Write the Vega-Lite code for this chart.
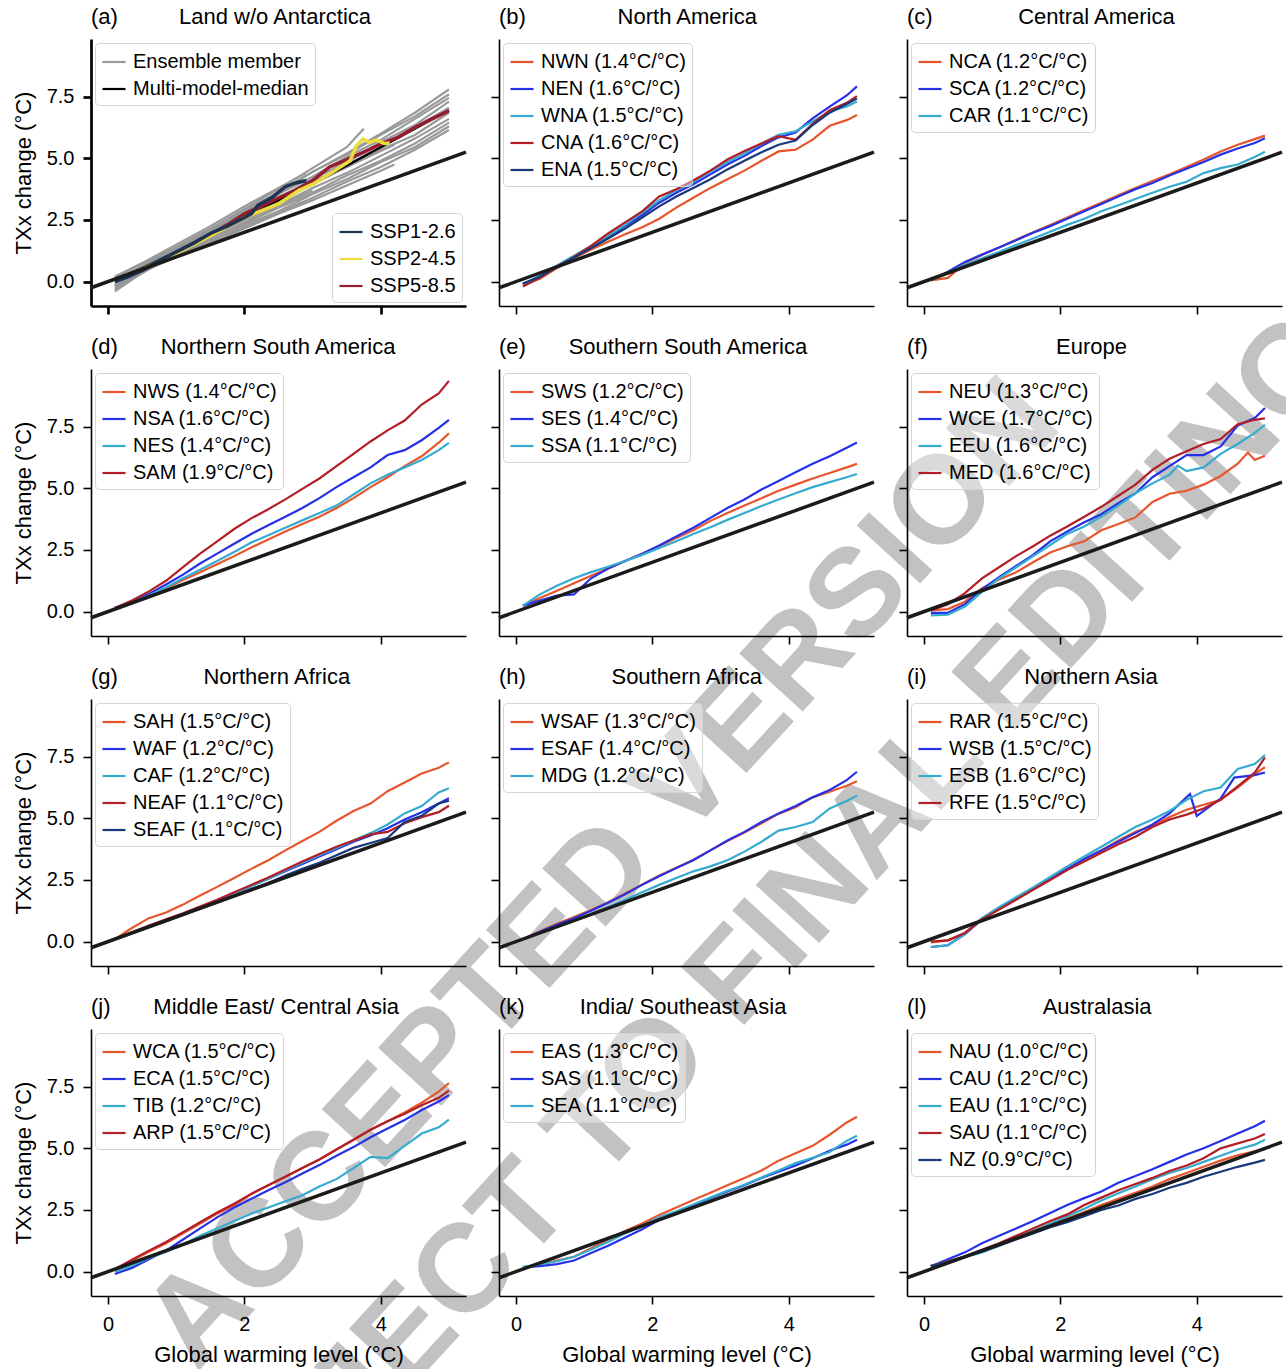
{
"$schema":"https://vega.github.io/schema/vega-lite/v6.json",
"background":"white",
"padding":{"left":12,"top":6,"right":4,"bottom":3},
"columns":3,
"spacing":{"row":63,"column":33},
"bounds":"flush",
"resolve":{"scale":{"color":"independent","x":"independent","y":"independent"},"legend":{"color":"independent"}},
"config":{
 "font":"Liberation Sans",
 "view":{"stroke":null},
 "title":{"fontSize":22,"fontWeight":"normal","anchor":"start","frame":"group","baseline":"alphabetic","offset":10,"color":"#000","font":"Liberation Sans"},
 "axis":{"grid":false,"domainColor":"#000","domainWidth":1.6,"tickColor":"#000","tickWidth":1.6,"tickSize":8,"labelFontSize":20,"labelColor":"#000","labelPadding":9,"labelFlush":false,"labelOverlap":false,"titleFontSize":22,"titleFontWeight":"normal","titleColor":"#000","labelFont":"Liberation Sans","titleFont":"Liberation Sans"},
 "axisY":{"titlePadding":11},
 "axisX":{"titlePadding":10,"labelPadding":10},
 "legend":{"orient":"top-left","offset":4,"padding":6,"fillColor":"rgba(255,255,255,0.4)","strokeColor":"#d4d4d4","cornerRadius":4,"labelFontSize":20,"labelFont":"Liberation Sans","labelColor":"#000","labelLimit":400,"symbolType":"stroke","symbolSize":529,"symbolStrokeWidth":2.2,"rowPadding":4,"labelOffset":6},
 "line":{"strokeWidth":2.2}
},
"concat":[
{"width":375,"height":267,
 "title":"(a)\u00a0\u00a0\u00a0\u00a0\u00a0\u00a0\u00a0\u00a0\u00a0\u00a0Land w/o Antarctica",
 "encoding":{"x":{"field":"x","type":"quantitative","scale":{"domain":[-0.25,5.25],"nice":false,"zero":false},"axis":{"values":[0,2,4],"labels":false,"title":null,"domainWidth":2.7,"tickWidth":2.7}},
  "y":{"field":"y","type":"quantitative","scale":{"domain":[-0.99,9.84],"nice":false,"zero":false},"axis":{"values":[0,2.5,5,7.5],"format":".1f","title":"TXx change (°C)","domainWidth":2.7,"tickWidth":2.7}}},
 "layer":[
  {"data":{"values":[
   {"id":"m1","m":"Ensemble member","x":[0.1,0.5,1.0,1.5,2.0,2.5,3.0,3.5,4.0,4.5,5.0],"y":[-0.4,0.35,1.2,1.95,2.8,3.65,4.45,5.2,6.0,6.85,7.8]},
   {"id":"m2","m":"Ensemble member","x":[0.1,0.5,1.0,1.5,2.0,2.5,3.0,3.5,4.0,4.5,5.0],"y":[-0.2,0.45,1.3,2.0,2.9,3.6,4.45,5.15,5.95,6.7,7.6]},
   {"id":"m3","m":"Ensemble member","x":[0.1,0.5,1.0,1.5,2.0,2.5,3.0,3.5,4.0,4.5,5.0],"y":[0.0,0.55,1.3,2.1,2.75,3.55,4.25,5.05,5.75,6.6,7.45]},
   {"id":"m4","m":"Ensemble member","x":[0.1,0.5,1.0,1.5,2.0,2.5,3.0,3.5,4.0,4.5,5.0],"y":[0.1,0.6,1.3,1.95,2.7,3.4,4.15,4.85,5.65,6.35,7.3]},
   {"id":"m5","m":"Ensemble member","x":[0.1,0.5,1.0,1.5,2.0,2.5,3.0,3.5,4.0,4.5,5.0],"y":[-0.3,0.4,1.15,1.9,2.6,3.35,4.0,4.75,5.45,6.25,7.05]},
   {"id":"m6","m":"Ensemble member","x":[0.1,0.5,1.0,1.5,2.0,2.5,3.0,3.5,4.0,4.5,5.0],"y":[0.2,0.7,1.4,2.0,2.7,3.35,4.05,4.65,5.35,5.95,6.85]},
   {"id":"m7","m":"Ensemble member","x":[0.1,0.5,1.0,1.5,2.0,2.5,3.0,3.5,4.0,4.5,5.0],"y":[-0.1,0.5,1.15,1.8,2.5,3.1,3.8,4.4,5.1,5.8,6.6]},
   {"id":"m8","m":"Ensemble member","x":[0.1,0.5,1.0,1.5,2.0,2.5,3.0,3.5,4.0,4.5,5.0],"y":[0.05,0.55,1.1,1.75,2.35,3.0,3.6,4.3,4.9,5.6,6.45]},
   {"id":"m9","m":"Ensemble member","x":[0.1,0.5,1.0,1.5,2.0,2.5,3.0,3.5,4.0,4.5,5.0],"y":[-0.2,0.4,1.0,1.6,2.3,2.85,3.55,4.15,4.85,5.45,6.3]},
   {"id":"m10","m":"Ensemble member","x":[0.1,0.5,1.0,1.5,2.0,2.5,3.0,3.5,4.0,4.5,5.0],"y":[0.15,0.55,1.05,1.6,2.2,2.8,3.4,4.05,4.65,5.35,6.15]},
   {"id":"m11","m":"Ensemble member","x":[0.1,0.5,1.0,1.5,2.0,2.5,3.0,3.5,3.75],"y":[0.0,0.6,1.4,2.15,2.95,3.75,4.6,5.45,6.2]},
   {"id":"m12","m":"Ensemble member","x":[0.1,0.5,1.0,1.5,2.0,2.5,3.0,3.5,4.0,4.2],"y":[-0.3,0.35,1.1,1.8,2.55,3.25,3.95,4.65,5.3,5.55]},
   {"id":"m13","m":"Ensemble member","x":[0.1,0.5,1.0,1.5,2.0,2.5,3.0,3.5,4.0,4.2],"y":[0.1,0.45,1.0,1.55,2.15,2.75,3.3,3.9,4.5,4.75]},
   {"id":"m14","m":"Ensemble member","x":[0.1,0.5,1.0,1.5,2.0,2.5,2.9],"y":[0.2,0.75,1.5,2.25,3.05,3.8,4.4]},
   {"id":"m15","m":"Ensemble member","x":[0.1,0.5,1.0,1.5,2.0,2.5,3.0],"y":[-0.15,0.4,1.05,1.7,2.4,3.05,3.7]},
   {"id":"m16","m":"Ensemble member","x":[0.1,0.5,1.0,1.5,2.0,2.5,3.0],"y":[0.05,0.5,1.1,1.65,2.2,2.8,3.3]},
   {"id":"med","m":"Multi-model-median","x":[0.1,0.5,1.0,1.5,2.0,2.5,3.0,3.5,4.0,4.5,5.0],"y":[0.05,0.55,1.2,1.85,2.6,3.3,4.0,4.7,5.45,6.2,6.95]}
  ]},
  "transform":[{"flatten":["x","y"]}],
  "mark":{"type":"line"},
  "encoding":{
   "color":{"field":"m","type":"nominal","scale":{"domain":["Ensemble member","Multi-model-median"],"range":["#999999","#000000"]},"legend":{"title":null,"orient":"top-left","encode":{"symbols":{"update":{"strokeWidth":{"signal":"datum.value === 'Multi-model-median' ? 3.5 : 1.2"}}}}}},
   "strokeWidth":{"condition":{"test":"datum.m === 'Multi-model-median'","value":3.5},"value":1.2},
   "detail":{"field":"id"}}},
  {"data":{"values":[
   {"s":"SSP5-8.5","x":[0.1,0.3,0.5,0.75,1.0,1.25,1.5,1.75,2.0,2.25,2.5,2.75,3.0,3.25,3.5,3.75,4.0,4.25,4.5,4.75,5.0],"y":[0.03,0.25,0.45,0.8,1.2,1.55,1.9,2.3,2.75,3.05,3.4,3.7,4.1,4.65,4.95,5.25,5.58,5.85,6.25,6.6,6.93]},
   {"s":"SSP2-4.5","x":[0.1,0.5,1.0,1.5,2.0,2.5,2.8,3.0,3.3,3.55,3.64,3.74,3.84,3.94,4.05,4.13],"y":[0.05,0.5,1.15,1.85,2.6,3.15,3.7,3.95,4.45,4.9,5.5,5.78,5.65,5.75,5.6,5.62]},
   {"s":"SSP1-2.6","x":[0.1,0.3,0.5,0.75,1.0,1.25,1.5,1.75,2.0,2.1,2.2,2.4,2.6,2.75,2.91],"y":[0.0,0.2,0.45,0.85,1.2,1.55,1.95,2.25,2.6,2.75,3.1,3.4,3.85,4.0,4.1]}
  ]},
  "transform":[{"flatten":["x","y"]}],
  "mark":{"type":"line","strokeWidth":3.5},
  "encoding":{"color":{"field":"s","type":"nominal","scale":{"domain":["SSP1-2.6","SSP2-4.5","SSP5-8.5"],"range":["#1d3354","#eadd3d","#951b2f"]},"legend":{"title":null,"orient":"bottom-right","symbolStrokeWidth":3.5}}}},
  {"data":{"values":[{"x":-0.25,"y":-0.25},{"x":5.25,"y":5.25}]},"mark":{"type":"line","color":"#1b1b1b","strokeWidth":3.5},"encoding":{}}
 ],
 "resolve":{"scale":{"color":"independent"}}
},
{"width":375,"height":267,
 "title":"(b)\u00a0\u00a0\u00a0\u00a0\u00a0\u00a0\u00a0\u00a0\u00a0\u00a0\u00a0\u00a0\u00a0\u00a0\u00a0North America",
 "encoding":{"x":{"field":"x","type":"quantitative","scale":{"domain":[-0.25,5.25],"nice":false,"zero":false},"axis":{"values":[0,2,4],"labels":false,"title":null}},
  "y":{"field":"y","type":"quantitative","scale":{"domain":[-0.99,9.84],"nice":false,"zero":false},"axis":{"values":[0,2.5,5,7.5],"labels":false,"title":null}}},
 "layer":[
  {"data":{"values":[
   {"s":"NWN (1.4°C/°C)","x":[0.1,0.35,0.6,0.85,1.1,1.35,1.6,1.85,2.1,2.35,2.6,2.85,3.1,3.35,3.6,3.85,4.1,4.35,4.6,4.85,5.0],"y":[-0.12,0.12,0.55,0.95,1.3,1.62,1.92,2.2,2.55,3.0,3.4,3.8,4.15,4.5,4.9,5.28,5.35,5.76,6.32,6.55,6.76]},
   {"s":"NEN (1.6°C/°C)","x":[0.1,0.35,0.6,0.85,1.1,1.35,1.6,1.85,2.1,2.35,2.6,2.85,3.1,3.35,3.6,3.85,4.1,4.35,4.6,4.85,5.0],"y":[-0.1,0.2,0.62,1.0,1.4,1.8,2.25,2.7,3.2,3.6,3.95,4.35,4.75,5.1,5.5,5.85,6.05,6.62,7.1,7.55,7.92]},
   {"s":"WNA (1.5°C/°C)","x":[0.1,0.35,0.6,0.85,1.1,1.35,1.6,1.85,2.1,2.35,2.6,2.85,3.1,3.35,3.6,3.85,4.1,4.35,4.6,4.85,5.0],"y":[-0.12,0.25,0.65,1.05,1.45,1.85,2.3,2.8,3.3,3.7,4.05,4.45,4.85,5.2,5.6,5.95,6.1,6.5,6.9,7.1,7.3]},
   {"s":"CNA (1.6°C/°C)","x":[0.1,0.35,0.6,0.85,1.1,1.35,1.6,1.85,2.1,2.35,2.6,2.85,3.1,3.35,3.6,3.85,4.1,4.35,4.6,4.85,5.0],"y":[-0.2,0.15,0.6,1.0,1.45,1.95,2.4,2.85,3.45,3.75,4.1,4.5,4.95,5.3,5.6,5.9,5.75,6.4,6.95,7.25,7.52]},
   {"s":"ENA (1.5°C/°C)","x":[0.1,0.35,0.6,0.85,1.1,1.35,1.6,1.85,2.1,2.35,2.6,2.85,3.1,3.35,3.6,3.85,4.1,4.35,4.6,4.85,5.0],"y":[-0.08,0.2,0.6,0.98,1.35,1.75,2.15,2.6,3.05,3.45,3.8,4.15,4.55,4.9,5.25,5.55,5.72,6.35,6.85,7.2,7.43]}
  ]},
  "transform":[{"flatten":["x","y"]}],"mark":{"type":"line"},
  "encoding":{"color":{"field":"s","type":"nominal","scale":{"domain":["NWN (1.4°C/°C)","NEN (1.6°C/°C)","WNA (1.5°C/°C)","CNA (1.6°C/°C)","ENA (1.5°C/°C)"],"range":["#e8552d","#2531e6","#35abd0","#b51d26","#17387a"]},"legend":{"title":null}}}},
  {"data":{"values":[{"x":-0.25,"y":-0.25},{"x":5.25,"y":5.25}]},"mark":{"type":"line","color":"#1b1b1b","strokeWidth":3.5},"encoding":{}}
 ]
},
{"width":375,"height":267,
 "title":"(c)\u00a0\u00a0\u00a0\u00a0\u00a0\u00a0\u00a0\u00a0\u00a0\u00a0\u00a0\u00a0\u00a0\u00a0Central America",
 "encoding":{"x":{"field":"x","type":"quantitative","scale":{"domain":[-0.25,5.25],"nice":false,"zero":false},"axis":{"values":[0,2,4],"labels":false,"title":"SUBJECT TO FINAL EDITING","titleX":-141,"titleY":694,"titleAngle":-47.5,"titleAlign":"center","titleBaseline":"alphabetic","titleFontSize":125,"titleFontWeight":"bold","titleColor":"#787878","titleOpacity":0.45,"titleLimit":5000}},
  "y":{"field":"y","type":"quantitative","scale":{"domain":[-0.99,9.84],"nice":false,"zero":false},"axis":{"values":[0,2.5,5,7.5],"labels":false,"title":"ACCEPTED VERSION","titleX":-277,"titleY":860,"titleAngle":-47.5,"titleAlign":"center","titleBaseline":"alphabetic","titleFontSize":125,"titleFontWeight":"bold","titleColor":"#787878","titleOpacity":0.45,"titleLimit":5000}}},
 "layer":[
  {"data":{"values":[
   {"s":"NCA (1.2°C/°C)","x":[0.1,0.35,0.6,0.85,1.1,1.35,1.6,1.85,2.1,2.35,2.6,2.85,3.1,3.35,3.6,3.85,4.1,4.35,4.6,4.85,5.0],"y":[0.05,0.15,0.75,1.08,1.38,1.7,2.0,2.3,2.6,2.9,3.2,3.5,3.8,4.08,4.35,4.65,4.95,5.28,5.55,5.78,5.92]},
   {"s":"SCA (1.2°C/°C)","x":[0.1,0.35,0.6,0.85,1.1,1.35,1.6,1.85,2.1,2.35,2.6,2.85,3.1,3.35,3.6,3.85,4.1,4.35,4.6,4.85,5.0],"y":[0.05,0.4,0.8,1.1,1.38,1.68,1.98,2.25,2.55,2.85,3.15,3.45,3.75,4.0,4.3,4.58,4.85,5.15,5.4,5.62,5.81]},
   {"s":"CAR (1.1°C/°C)","x":[0.1,0.35,0.6,0.85,1.1,1.35,1.6,1.85,2.1,2.35,2.6,2.85,3.1,3.35,3.6,3.85,4.1,4.35,4.6,4.85,5.0],"y":[0.05,0.35,0.68,0.95,1.2,1.48,1.75,2.02,2.3,2.55,2.85,3.1,3.35,3.6,3.85,4.05,4.4,4.6,4.75,5.05,5.27]}
  ]},
  "transform":[{"flatten":["x","y"]}],"mark":{"type":"line"},
  "encoding":{"color":{"field":"s","type":"nominal","scale":{"domain":["NCA (1.2°C/°C)","SCA (1.2°C/°C)","CAR (1.1°C/°C)"],"range":["#e8552d","#2531e6","#35abd0"]},"legend":{"title":null}}}},
  {"data":{"values":[{"x":-0.25,"y":-0.25},{"x":5.25,"y":5.25}]},"mark":{"type":"line","color":"#1b1b1b","strokeWidth":3.5},"encoding":{}}
 ]
},
{"width":375,"height":267,
 "title":"(d)\u00a0\u00a0\u00a0\u00a0\u00a0\u00a0\u00a0Northern South America",
 "encoding":{"x":{"field":"x","type":"quantitative","scale":{"domain":[-0.25,5.25],"nice":false,"zero":false},"axis":{"values":[0,2,4],"labels":false,"title":null}},
  "y":{"field":"y","type":"quantitative","scale":{"domain":[-0.99,9.84],"nice":false,"zero":false},"axis":{"values":[0,2.5,5,7.5],"format":".1f","title":"TXx change (°C)"}}},
 "layer":[
  {"data":{"values":[
   {"s":"NWS (1.4°C/°C)","x":[0.1,0.35,0.6,0.85,1.1,1.35,1.6,1.85,2.1,2.35,2.6,2.85,3.1,3.35,3.6,3.85,4.1,4.35,4.6,4.85,5.0],"y":[0.15,0.35,0.62,0.95,1.28,1.6,1.92,2.25,2.6,2.92,3.25,3.55,3.85,4.2,4.6,5.05,5.45,5.9,6.3,6.85,7.23]},
   {"s":"NSA (1.6°C/°C)","x":[0.1,0.35,0.6,0.85,1.1,1.35,1.6,1.85,2.1,2.35,2.6,2.85,3.1,3.35,3.6,3.85,4.1,4.35,4.6,4.85,5.0],"y":[0.15,0.4,0.72,1.1,1.5,1.95,2.35,2.75,3.15,3.5,3.85,4.2,4.6,5.05,5.45,5.85,6.35,6.55,6.95,7.45,7.78]},
   {"s":"NES (1.4°C/°C)","x":[0.1,0.35,0.6,0.85,1.1,1.35,1.6,1.85,2.1,2.35,2.6,2.85,3.1,3.35,3.6,3.85,4.1,4.35,4.6,4.85,5.0],"y":[0.15,0.38,0.65,0.98,1.35,1.7,2.05,2.42,2.8,3.1,3.4,3.7,4.0,4.3,4.75,5.2,5.55,5.85,6.15,6.55,6.84]},
   {"s":"SAM (1.9°C/°C)","x":[0.1,0.35,0.6,0.85,1.1,1.35,1.6,1.85,2.1,2.35,2.6,2.85,3.1,3.35,3.6,3.85,4.1,4.35,4.6,4.85,5.0],"y":[0.15,0.45,0.82,1.25,1.8,2.35,2.85,3.35,3.78,4.15,4.55,4.98,5.4,5.9,6.4,6.9,7.35,7.75,8.4,8.85,9.36]}
  ]},
  "transform":[{"flatten":["x","y"]}],"mark":{"type":"line"},
  "encoding":{"color":{"field":"s","type":"nominal","scale":{"domain":["NWS (1.4°C/°C)","NSA (1.6°C/°C)","NES (1.4°C/°C)","SAM (1.9°C/°C)"],"range":["#e8552d","#2531e6","#35abd0","#b51d26"]},"legend":{"title":null}}}},
  {"data":{"values":[{"x":-0.25,"y":-0.25},{"x":5.25,"y":5.25}]},"mark":{"type":"line","color":"#1b1b1b","strokeWidth":3.5},"encoding":{}}
 ]
},
{"width":375,"height":267,
 "title":"(e)\u00a0\u00a0\u00a0\u00a0\u00a0\u00a0\u00a0Southern South America",
 "encoding":{"x":{"field":"x","type":"quantitative","scale":{"domain":[-0.25,5.25],"nice":false,"zero":false},"axis":{"values":[0,2,4],"labels":false,"title":null}},
  "y":{"field":"y","type":"quantitative","scale":{"domain":[-0.99,9.84],"nice":false,"zero":false},"axis":{"values":[0,2.5,5,7.5],"labels":false,"title":null}}},
 "layer":[
  {"data":{"values":[
   {"s":"SWS (1.2°C/°C)","x":[0.1,0.35,0.6,0.85,1.1,1.35,1.6,1.85,2.1,2.35,2.6,2.85,3.1,3.35,3.6,3.85,4.1,4.35,4.6,4.85,5.0],"y":[0.24,0.55,0.85,1.15,1.45,1.75,2.05,2.35,2.65,2.98,3.3,3.68,4.0,4.3,4.6,4.9,5.15,5.4,5.62,5.85,5.99]},
   {"s":"SES (1.4°C/°C)","x":[0.1,0.35,0.6,0.85,1.1,1.35,1.6,1.85,2.1,2.35,2.6,2.85,3.1,3.35,3.6,3.85,4.1,4.35,4.6,4.85,5.0],"y":[0.24,0.45,0.65,0.7,1.35,1.75,2.05,2.35,2.68,3.05,3.4,3.8,4.2,4.55,4.95,5.3,5.65,6.0,6.3,6.65,6.86]},
   {"s":"SSA (1.1°C/°C)","x":[0.1,0.35,0.6,0.85,1.1,1.35,1.6,1.85,2.1,2.35,2.6,2.85,3.1,3.35,3.6,3.85,4.1,4.35,4.6,4.85,5.0],"y":[0.24,0.7,1.05,1.35,1.6,1.82,2.05,2.3,2.58,2.85,3.15,3.42,3.72,4.0,4.28,4.55,4.8,5.05,5.25,5.45,5.58]}
  ]},
  "transform":[{"flatten":["x","y"]}],"mark":{"type":"line"},
  "encoding":{"color":{"field":"s","type":"nominal","scale":{"domain":["SWS (1.2°C/°C)","SES (1.4°C/°C)","SSA (1.1°C/°C)"],"range":["#e8552d","#2531e6","#35abd0"]},"legend":{"title":null}}}},
  {"data":{"values":[{"x":-0.25,"y":-0.25},{"x":5.25,"y":5.25}]},"mark":{"type":"line","color":"#1b1b1b","strokeWidth":3.5},"encoding":{}}
 ]
},
{"width":375,"height":267,
 "title":"(f)\u00a0\u00a0\u00a0\u00a0\u00a0\u00a0\u00a0\u00a0\u00a0\u00a0\u00a0\u00a0\u00a0\u00a0\u00a0\u00a0\u00a0\u00a0\u00a0\u00a0\u00a0Europe",
 "encoding":{"x":{"field":"x","type":"quantitative","scale":{"domain":[-0.25,5.25],"nice":false,"zero":false},"axis":{"values":[0,2,4],"labels":false,"title":null}},
  "y":{"field":"y","type":"quantitative","scale":{"domain":[-0.99,9.84],"nice":false,"zero":false},"axis":{"values":[0,2.5,5,7.5],"labels":false,"title":null}}},
 "layer":[
  {"data":{"values":[
   {"s":"NEU (1.3°C/°C)","x":[0.1,0.35,0.6,0.85,1.1,1.35,1.6,1.85,2.1,2.35,2.6,2.85,3.1,3.35,3.6,3.85,4.1,4.35,4.6,4.75,4.85,5.0],"y":[0.05,0.1,0.4,0.95,1.3,1.6,2.0,2.4,2.65,2.85,3.3,3.55,3.82,4.45,4.78,4.9,5.15,5.5,6.0,6.45,6.15,6.32]},
   {"s":"WCE (1.7°C/°C)","x":[0.1,0.35,0.6,0.85,1.1,1.35,1.6,1.85,2.1,2.35,2.6,2.85,3.1,3.35,3.6,3.85,4.1,4.35,4.6,4.85,5.0],"y":[-0.05,-0.05,0.3,0.9,1.4,1.85,2.3,2.85,3.25,3.62,3.95,4.4,4.8,5.45,5.9,6.35,6.35,6.7,7.55,7.85,8.26]},
   {"s":"EEU (1.6°C/°C)","x":[0.1,0.35,0.6,0.85,1.1,1.35,1.6,1.85,2.1,2.35,2.6,2.85,3.1,3.35,3.6,3.72,3.85,4.1,4.35,4.6,4.85,5.0],"y":[-0.15,-0.12,0.2,0.8,1.35,1.8,2.25,2.7,3.15,3.45,3.85,4.3,4.8,5.2,5.55,5.92,5.7,5.85,6.4,6.8,7.25,7.57]},
   {"s":"MED (1.6°C/°C)","x":[0.1,0.35,0.6,0.85,1.1,1.35,1.6,1.85,2.1,2.35,2.6,2.85,3.1,3.35,3.6,3.85,4.1,4.35,4.6,4.85,5.0],"y":[0.05,0.3,0.75,1.35,1.8,2.25,2.65,3.08,3.45,3.85,4.25,4.7,5.15,5.75,6.2,6.5,6.8,7.0,7.6,7.78,7.84]}
  ]},
  "transform":[{"flatten":["x","y"]}],"mark":{"type":"line"},
  "encoding":{"color":{"field":"s","type":"nominal","scale":{"domain":["NEU (1.3°C/°C)","WCE (1.7°C/°C)","EEU (1.6°C/°C)","MED (1.6°C/°C)"],"range":["#e8552d","#2531e6","#35abd0","#b51d26"]},"legend":{"title":null}}}},
  {"data":{"values":[{"x":-0.25,"y":-0.25},{"x":5.25,"y":5.25}]},"mark":{"type":"line","color":"#1b1b1b","strokeWidth":3.5},"encoding":{}}
 ]
},
{"width":375,"height":267,
 "title":"(g)\u00a0\u00a0\u00a0\u00a0\u00a0\u00a0\u00a0\u00a0\u00a0\u00a0\u00a0\u00a0\u00a0\u00a0Northern Africa",
 "encoding":{"x":{"field":"x","type":"quantitative","scale":{"domain":[-0.25,5.25],"nice":false,"zero":false},"axis":{"values":[0,2,4],"labels":false,"title":null}},
  "y":{"field":"y","type":"quantitative","scale":{"domain":[-0.99,9.84],"nice":false,"zero":false},"axis":{"values":[0,2.5,5,7.5],"format":".1f","title":"TXx change (°C)"}}},
 "layer":[
  {"data":{"values":[
   {"s":"SAH (1.5°C/°C)","x":[0.1,0.35,0.6,0.85,1.1,1.35,1.6,1.85,2.1,2.35,2.6,2.85,3.1,3.35,3.6,3.85,4.1,4.35,4.6,4.85,5.0],"y":[0.1,0.55,0.95,1.18,1.5,1.87,2.22,2.58,2.95,3.3,3.7,4.08,4.45,4.9,5.3,5.6,6.1,6.45,6.82,7.05,7.27]},
   {"s":"WAF (1.2°C/°C)","x":[0.1,0.35,0.6,0.85,1.1,1.35,1.6,1.85,2.1,2.35,2.6,2.85,3.1,3.35,3.6,3.85,4.1,4.35,4.6,4.85,5.0],"y":[0.1,0.35,0.6,0.86,1.12,1.4,1.68,1.95,2.25,2.55,2.85,3.15,3.45,3.75,4.05,4.3,4.6,4.95,5.25,5.6,5.81]},
   {"s":"CAF (1.2°C/°C)","x":[0.1,0.35,0.6,0.85,1.1,1.35,1.6,1.85,2.1,2.35,2.6,2.85,3.1,3.35,3.6,3.85,4.1,4.35,4.6,4.85,5.0],"y":[0.1,0.35,0.6,0.86,1.12,1.4,1.68,1.95,2.25,2.55,2.88,3.2,3.5,3.8,4.1,4.4,4.75,5.2,5.5,6.05,6.22]},
   {"s":"NEAF (1.1°C/°C)","x":[0.1,0.35,0.6,0.85,1.1,1.35,1.6,1.85,2.1,2.35,2.6,2.85,3.1,3.35,3.6,3.85,4.1,4.35,4.6,4.85,5.0],"y":[0.1,0.38,0.65,0.9,1.15,1.42,1.7,2.0,2.3,2.6,2.92,3.25,3.55,3.85,4.1,4.35,4.45,4.8,5.05,5.25,5.51]},
   {"s":"SEAF (1.1°C/°C)","x":[0.1,0.35,0.6,0.85,1.1,1.35,1.6,1.85,2.1,2.35,2.6,2.85,3.1,3.35,3.6,3.85,4.1,4.35,4.6,4.85,5.0],"y":[0.1,0.35,0.58,0.83,1.08,1.35,1.6,1.86,2.12,2.38,2.68,2.95,3.2,3.5,3.8,4.0,4.2,4.85,5.1,5.6,5.72]}
  ]},
  "transform":[{"flatten":["x","y"]}],"mark":{"type":"line"},
  "encoding":{"color":{"field":"s","type":"nominal","scale":{"domain":["SAH (1.5°C/°C)","WAF (1.2°C/°C)","CAF (1.2°C/°C)","NEAF (1.1°C/°C)","SEAF (1.1°C/°C)"],"range":["#e8552d","#2531e6","#35abd0","#b51d26","#17387a"]},"legend":{"title":null}}}},
  {"data":{"values":[{"x":-0.25,"y":-0.25},{"x":5.25,"y":5.25}]},"mark":{"type":"line","color":"#1b1b1b","strokeWidth":3.5},"encoding":{}}
 ]
},
{"width":375,"height":267,
 "title":"(h)\u00a0\u00a0\u00a0\u00a0\u00a0\u00a0\u00a0\u00a0\u00a0\u00a0\u00a0\u00a0\u00a0\u00a0Southern Africa",
 "encoding":{"x":{"field":"x","type":"quantitative","scale":{"domain":[-0.25,5.25],"nice":false,"zero":false},"axis":{"values":[0,2,4],"labels":false,"title":null}},
  "y":{"field":"y","type":"quantitative","scale":{"domain":[-0.99,9.84],"nice":false,"zero":false},"axis":{"values":[0,2.5,5,7.5],"labels":false,"title":null}}},
 "layer":[
  {"data":{"values":[
   {"s":"WSAF (1.3°C/°C)","x":[0.1,0.35,0.6,0.85,1.1,1.35,1.6,1.85,2.1,2.35,2.6,2.85,3.1,3.35,3.6,3.85,4.1,4.35,4.6,4.85,5.0],"y":[0.1,0.42,0.72,1.0,1.28,1.6,1.95,2.32,2.68,3.0,3.32,3.7,4.08,4.42,4.8,5.18,5.45,5.85,6.08,6.32,6.5]},
   {"s":"ESAF (1.4°C/°C)","x":[0.1,0.35,0.6,0.85,1.1,1.35,1.6,1.85,2.1,2.35,2.6,2.85,3.1,3.35,3.6,3.85,4.1,4.35,4.6,4.85,5.0],"y":[0.1,0.4,0.68,0.95,1.25,1.58,1.92,2.3,2.65,2.98,3.3,3.7,4.1,4.45,4.85,5.2,5.5,5.85,6.15,6.55,6.89]},
   {"s":"MDG (1.2°C/°C)","x":[0.1,0.35,0.6,0.85,1.1,1.35,1.6,1.85,2.1,2.35,2.6,2.85,3.1,3.35,3.6,3.85,4.1,4.35,4.6,4.85,5.0],"y":[0.1,0.35,0.6,0.85,1.1,1.4,1.7,2.0,2.3,2.58,2.85,3.05,3.3,3.65,4.05,4.5,4.65,4.85,5.4,5.7,5.92]}
  ]},
  "transform":[{"flatten":["x","y"]}],"mark":{"type":"line"},
  "encoding":{"color":{"field":"s","type":"nominal","scale":{"domain":["WSAF (1.3°C/°C)","ESAF (1.4°C/°C)","MDG (1.2°C/°C)"],"range":["#e8552d","#2531e6","#35abd0"]},"legend":{"title":null}}}},
  {"data":{"values":[{"x":-0.25,"y":-0.25},{"x":5.25,"y":5.25}]},"mark":{"type":"line","color":"#1b1b1b","strokeWidth":3.5},"encoding":{}}
 ]
},
{"width":375,"height":267,
 "title":"(i)\u00a0\u00a0\u00a0\u00a0\u00a0\u00a0\u00a0\u00a0\u00a0\u00a0\u00a0\u00a0\u00a0\u00a0\u00a0\u00a0Northern Asia",
 "encoding":{"x":{"field":"x","type":"quantitative","scale":{"domain":[-0.25,5.25],"nice":false,"zero":false},"axis":{"values":[0,2,4],"labels":false,"title":null}},
  "y":{"field":"y","type":"quantitative","scale":{"domain":[-0.99,9.84],"nice":false,"zero":false},"axis":{"values":[0,2.5,5,7.5],"labels":false,"title":null}}},
 "layer":[
  {"data":{"values":[
   {"s":"RAR (1.5°C/°C)","x":[0.1,0.35,0.6,0.85,1.1,1.35,1.6,1.85,2.1,2.35,2.6,2.85,3.1,3.35,3.6,3.85,4.1,4.35,4.6,4.85,5.0],"y":[-0.03,0.05,0.35,0.95,1.35,1.75,2.15,2.55,2.95,3.35,3.7,4.1,4.45,4.7,5.05,5.35,5.55,5.75,6.25,6.8,7.07]},
   {"s":"WSB (1.5°C/°C)","x":[0.1,0.35,0.6,0.85,1.1,1.35,1.6,1.85,2.1,2.35,2.6,2.85,3.1,3.35,3.6,3.9,4.0,4.35,4.55,4.85,5.0],"y":[-0.22,-0.15,0.3,0.9,1.35,1.75,2.15,2.55,2.95,3.35,3.7,4.05,4.4,4.75,5.2,5.99,5.1,5.8,6.65,6.75,6.86]},
   {"s":"ESB (1.6°C/°C)","x":[0.1,0.35,0.6,0.85,1.1,1.35,1.6,1.85,2.1,2.35,2.6,2.85,3.1,3.35,3.6,3.85,4.1,4.35,4.6,4.85,5.0],"y":[-0.22,-0.15,0.3,0.95,1.4,1.8,2.2,2.62,3.05,3.45,3.85,4.25,4.65,4.95,5.3,5.75,6.1,6.25,7.0,7.2,7.57]},
   {"s":"RFE (1.5°C/°C)","x":[0.1,0.35,0.6,0.85,1.1,1.35,1.6,1.85,2.1,2.35,2.6,2.85,3.1,3.35,3.6,3.85,4.1,4.35,4.6,4.85,5.0],"y":[0.0,0.05,0.35,0.9,1.3,1.7,2.1,2.5,2.9,3.25,3.6,3.95,4.25,4.65,4.95,5.15,5.4,5.75,6.3,6.85,7.47]}
  ]},
  "transform":[{"flatten":["x","y"]}],"mark":{"type":"line"},
  "encoding":{"color":{"field":"s","type":"nominal","scale":{"domain":["RAR (1.5°C/°C)","WSB (1.5°C/°C)","ESB (1.6°C/°C)","RFE (1.5°C/°C)"],"range":["#e8552d","#2531e6","#35abd0","#b51d26"]},"legend":{"title":null}}}},
  {"data":{"values":[{"x":-0.25,"y":-0.25},{"x":5.25,"y":5.25}]},"mark":{"type":"line","color":"#1b1b1b","strokeWidth":3.5},"encoding":{}}
 ]
},
{"width":375,"height":267,
 "title":"(j)\u00a0\u00a0\u00a0\u00a0\u00a0\u00a0\u00a0Middle East/ Central Asia",
 "encoding":{"x":{"field":"x","type":"quantitative","scale":{"domain":[-0.25,5.25],"nice":false,"zero":false},"axis":{"values":[0,2,4],"title":"Global warming level (°C)"}},
  "y":{"field":"y","type":"quantitative","scale":{"domain":[-0.99,9.84],"nice":false,"zero":false},"axis":{"values":[0,2.5,5,7.5],"format":".1f","title":"TXx change (°C)"}}},
 "layer":[
  {"data":{"values":[
   {"s":"WCA (1.5°C/°C)","x":[0.1,0.35,0.6,0.85,1.1,1.35,1.6,1.85,2.1,2.35,2.6,2.85,3.1,3.35,3.6,3.85,4.1,4.35,4.6,4.85,5.0],"y":[0.1,0.45,0.8,1.15,1.55,1.95,2.35,2.7,3.15,3.5,3.85,4.2,4.55,4.95,5.35,5.75,6.1,6.45,6.85,7.3,7.65]},
   {"s":"ECA (1.5°C/°C)","x":[0.1,0.35,0.6,0.85,1.1,1.35,1.6,1.85,2.1,2.35,2.6,2.85,3.1,3.35,3.6,3.85,4.1,4.35,4.6,4.85,5.0],"y":[-0.1,0.15,0.5,0.85,1.3,1.75,2.2,2.6,2.95,3.3,3.62,3.98,4.32,4.7,5.05,5.45,5.8,6.15,6.55,6.9,7.16]},
   {"s":"TIB (1.2°C/°C)","x":[0.1,0.35,0.6,0.85,1.1,1.35,1.6,1.85,2.1,2.35,2.6,2.85,3.1,3.35,3.6,3.85,4.1,4.35,4.6,4.85,5.0],"y":[0.0,0.25,0.55,0.8,1.1,1.45,1.75,2.05,2.35,2.6,2.85,3.1,3.45,3.75,4.2,4.65,4.6,5.1,5.6,5.85,6.16]},
   {"s":"ARP (1.5°C/°C)","x":[0.1,0.35,0.6,0.85,1.1,1.35,1.6,1.85,2.1,2.35,2.6,2.85,3.1,3.35,3.6,3.85,4.1,4.35,4.6,4.85,5.0],"y":[0.1,0.48,0.85,1.2,1.6,2.0,2.4,2.75,3.15,3.5,3.85,4.2,4.55,4.95,5.35,5.75,6.1,6.4,6.75,7.05,7.34]}
  ]},
  "transform":[{"flatten":["x","y"]}],"mark":{"type":"line"},
  "encoding":{"color":{"field":"s","type":"nominal","scale":{"domain":["WCA (1.5°C/°C)","ECA (1.5°C/°C)","TIB (1.2°C/°C)","ARP (1.5°C/°C)"],"range":["#e8552d","#2531e6","#35abd0","#b51d26"]},"legend":{"title":null}}}},
  {"data":{"values":[{"x":-0.25,"y":-0.25},{"x":5.25,"y":5.25}]},"mark":{"type":"line","color":"#1b1b1b","strokeWidth":3.5},"encoding":{}}
 ]
},
{"width":375,"height":267,
 "title":"(k)\u00a0\u00a0\u00a0\u00a0\u00a0\u00a0\u00a0\u00a0\u00a0India/ Southeast Asia",
 "encoding":{"x":{"field":"x","type":"quantitative","scale":{"domain":[-0.25,5.25],"nice":false,"zero":false},"axis":{"values":[0,2,4],"title":"Global warming level (°C)"}},
  "y":{"field":"y","type":"quantitative","scale":{"domain":[-0.99,9.84],"nice":false,"zero":false},"axis":{"values":[0,2.5,5,7.5],"labels":false,"title":null}}},
 "layer":[
  {"data":{"values":[
   {"s":"EAS (1.3°C/°C)","x":[0.1,0.35,0.6,0.85,1.1,1.35,1.6,1.85,2.1,2.35,2.6,2.85,3.1,3.35,3.6,3.85,4.1,4.35,4.6,4.85,5.0],"y":[0.18,0.28,0.45,0.6,0.95,1.3,1.65,1.95,2.3,2.6,2.9,3.2,3.5,3.8,4.1,4.5,4.8,5.1,5.55,6.05,6.28]},
   {"s":"SAS (1.1°C/°C)","x":[0.1,0.35,0.6,0.85,1.1,1.35,1.6,1.85,2.1,2.35,2.6,2.85,3.1,3.35,3.6,3.85,4.1,4.35,4.6,4.85,5.0],"y":[0.18,0.22,0.3,0.45,0.75,1.05,1.38,1.72,2.1,2.4,2.7,2.98,3.25,3.5,3.8,4.05,4.3,4.6,4.9,5.15,5.35]},
   {"s":"SEA (1.1°C/°C)","x":[0.1,0.35,0.6,0.85,1.1,1.35,1.6,1.85,2.1,2.35,2.6,2.85,3.1,3.35,3.6,3.85,4.1,4.35,4.6,4.85,5.0],"y":[0.18,0.3,0.42,0.6,0.9,1.2,1.55,1.85,2.2,2.45,2.72,3.0,3.28,3.52,3.82,4.1,4.4,4.62,4.85,5.3,5.51]}
  ]},
  "transform":[{"flatten":["x","y"]}],"mark":{"type":"line"},
  "encoding":{"color":{"field":"s","type":"nominal","scale":{"domain":["EAS (1.3°C/°C)","SAS (1.1°C/°C)","SEA (1.1°C/°C)"],"range":["#e8552d","#2531e6","#35abd0"]},"legend":{"title":null}}}},
  {"data":{"values":[{"x":-0.25,"y":-0.25},{"x":5.25,"y":5.25}]},"mark":{"type":"line","color":"#1b1b1b","strokeWidth":3.5},"encoding":{}}
 ]
},
{"width":375,"height":267,
 "title":"(l)\u00a0\u00a0\u00a0\u00a0\u00a0\u00a0\u00a0\u00a0\u00a0\u00a0\u00a0\u00a0\u00a0\u00a0\u00a0\u00a0\u00a0\u00a0\u00a0Australasia",
 "encoding":{"x":{"field":"x","type":"quantitative","scale":{"domain":[-0.25,5.25],"nice":false,"zero":false},"axis":{"values":[0,2,4],"title":"Global warming level (°C)"}},
  "y":{"field":"y","type":"quantitative","scale":{"domain":[-0.99,9.84],"nice":false,"zero":false},"axis":{"values":[0,2.5,5,7.5],"labels":false,"title":null}}},
 "layer":[
  {"data":{"values":[
   {"s":"NAU (1.0°C/°C)","x":[0.1,0.35,0.6,0.85,1.1,1.35,1.6,1.85,2.1,2.35,2.6,2.85,3.1,3.35,3.6,3.85,4.1,4.35,4.6,4.85,5.0],"y":[0.22,0.4,0.6,0.85,1.1,1.35,1.62,1.88,2.15,2.42,2.7,2.95,3.2,3.45,3.75,4.0,4.25,4.5,4.72,4.88,4.97]},
   {"s":"CAU (1.2°C/°C)","x":[0.1,0.35,0.6,0.85,1.1,1.35,1.6,1.85,2.1,2.35,2.6,2.85,3.1,3.35,3.6,3.85,4.1,4.35,4.6,4.85,5.0],"y":[0.22,0.5,0.78,1.15,1.45,1.75,2.05,2.38,2.7,2.98,3.25,3.6,3.88,4.15,4.45,4.75,5.0,5.3,5.6,5.9,6.12]},
   {"s":"EAU (1.1°C/°C)","x":[0.1,0.35,0.6,0.85,1.1,1.35,1.6,1.85,2.1,2.35,2.6,2.85,3.1,3.35,3.6,3.85,4.1,4.35,4.6,4.85,5.0],"y":[0.22,0.42,0.58,0.78,1.05,1.35,1.65,1.95,2.25,2.55,2.88,3.18,3.45,3.75,4.0,4.2,4.45,4.7,4.95,5.15,5.35]},
   {"s":"SAU (1.1°C/°C)","x":[0.1,0.35,0.6,0.85,1.1,1.35,1.6,1.85,2.1,2.35,2.6,2.85,3.1,3.35,3.6,3.85,4.1,4.35,4.6,4.85,5.0],"y":[0.22,0.42,0.62,0.88,1.15,1.45,1.75,2.05,2.32,2.7,3.0,3.3,3.55,3.8,4.08,4.3,4.6,5.0,5.2,5.4,5.58]},
   {"s":"NZ (0.9°C/°C)","x":[0.1,0.35,0.6,0.85,1.1,1.35,1.6,1.85,2.1,2.35,2.6,2.85,3.1,3.35,3.6,3.85,4.1,4.35,4.6,4.85,5.0],"y":[0.22,0.4,0.6,0.82,1.05,1.3,1.55,1.8,2.0,2.25,2.5,2.68,2.95,3.15,3.4,3.6,3.85,4.05,4.25,4.42,4.53]}
  ]},
  "transform":[{"flatten":["x","y"]}],"mark":{"type":"line"},
  "encoding":{"color":{"field":"s","type":"nominal","scale":{"domain":["NAU (1.0°C/°C)","CAU (1.2°C/°C)","EAU (1.1°C/°C)","SAU (1.1°C/°C)","NZ (0.9°C/°C)"],"range":["#e8552d","#2531e6","#35abd0","#b51d26","#17387a"]},"legend":{"title":null}}}},
  {"data":{"values":[{"x":-0.25,"y":-0.25},{"x":5.25,"y":5.25}]},"mark":{"type":"line","color":"#1b1b1b","strokeWidth":3.5},"encoding":{}}
 ]
}
]
}
